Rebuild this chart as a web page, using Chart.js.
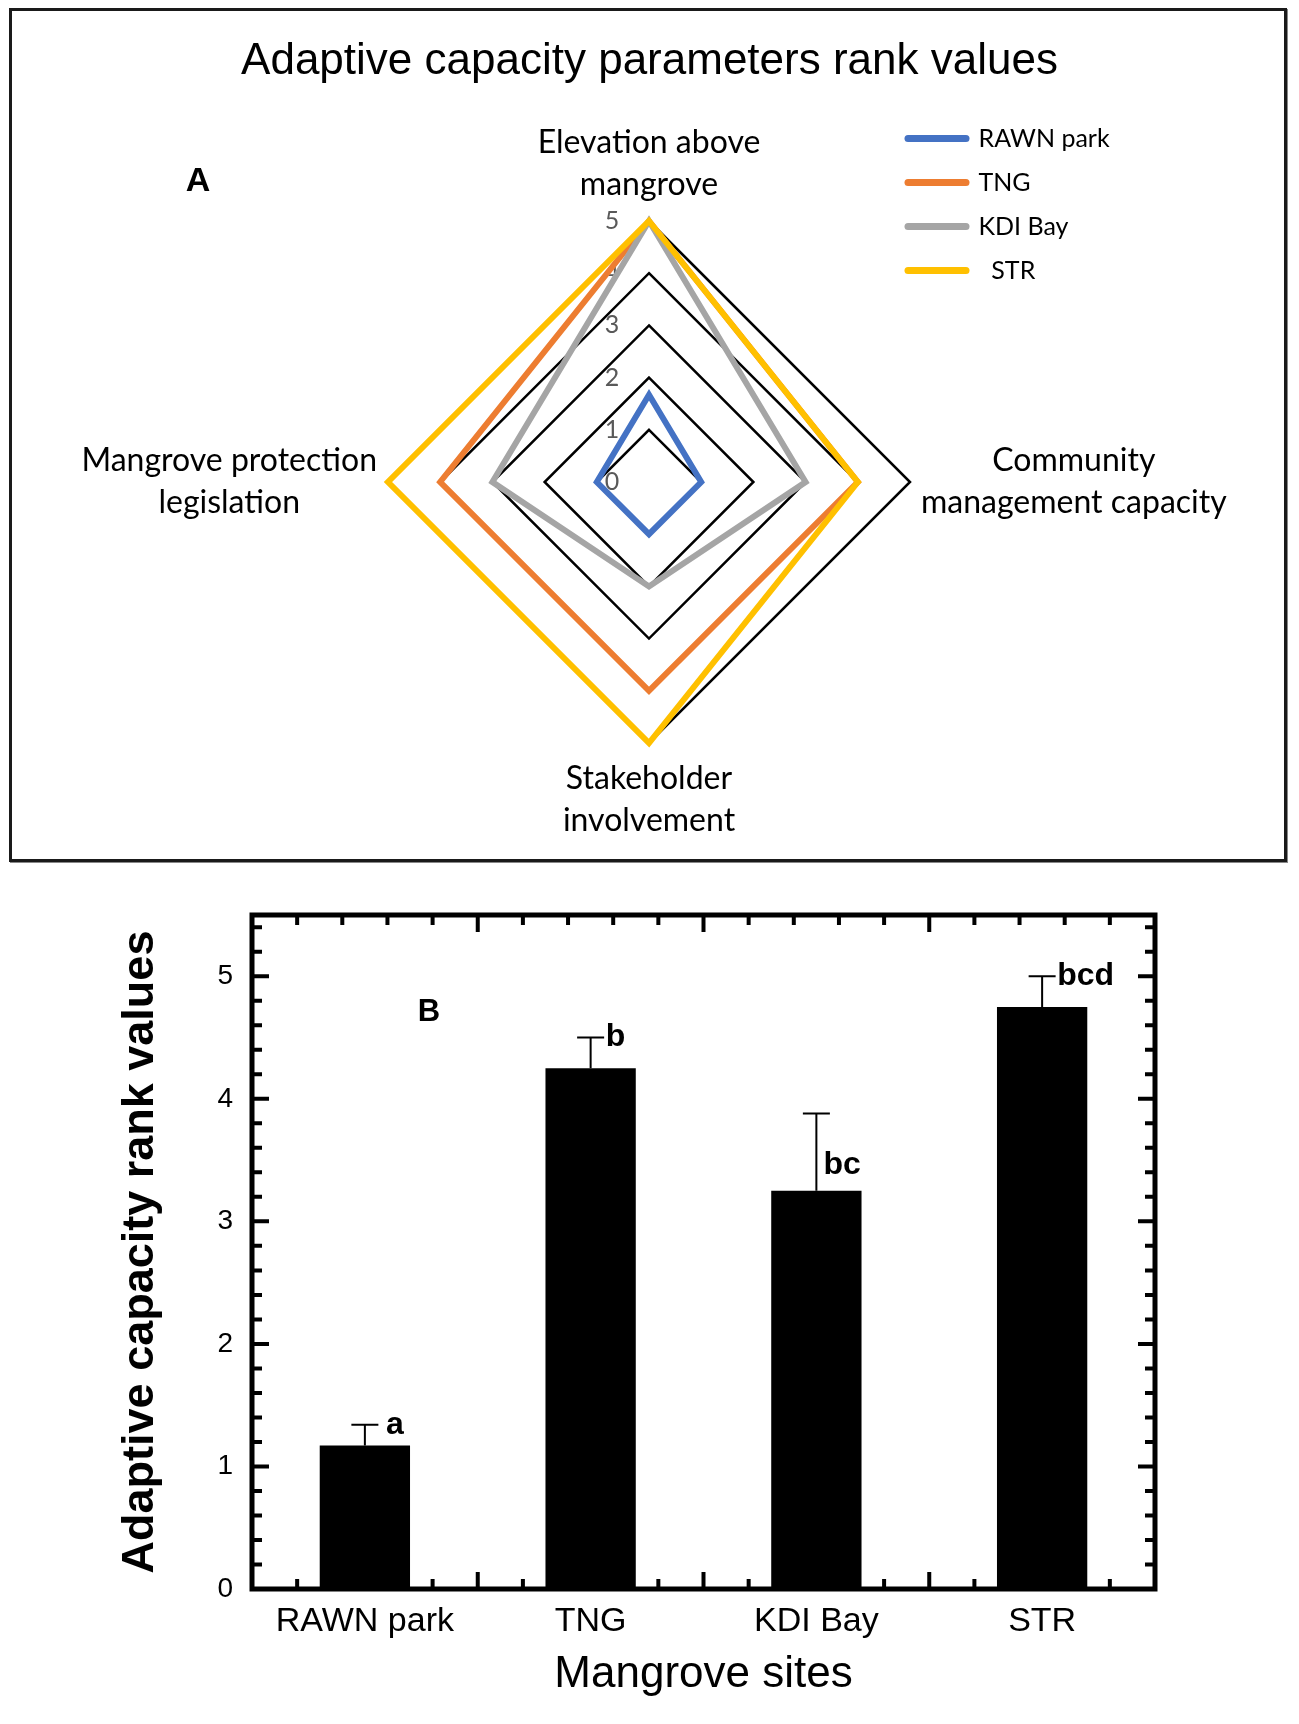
<!DOCTYPE html>
<html><head><meta charset="utf-8">
<script src="https://cdn.jsdelivr.net/npm/chart.js@4.4.1/dist/chart.umd.min.js"></script>
<style>
html,body{margin:0;padding:0;background:#fff;width:1299px;height:1724px;overflow:hidden;}
#frameA{position:absolute;left:9px;top:8px;width:1272px;height:848px;border:3px solid #1a1a1a;box-shadow:1px 1px 0 #888;}
#wrapA{position:absolute;left:0;top:0;width:1299px;height:875px;}
#wrapB{position:absolute;left:0;top:875px;width:1299px;height:849px;}
</style></head><body>
<div id="frameA"></div>
<div id="wrapA"><canvas id="radar"></canvas></div>
<div id="wrapB"><canvas id="bars"></canvas></div>
<script>
// ---- data ----
const radarAxes = [['Elevation above', 'mangrove'], ['Community', 'management capacity'], ['Stakeholder', 'involvement'], ['Mangrove protection', 'legislation']];
const siteNames = ['RAWN park', 'TNG', 'KDI Bay', 'STR'];
const rawnPark = [1.67, 1, 1, 1];
const tng = [5, 4, 4, 4];
const kdiBay = [5, 3, 2, 3];
const str = [5, 4, 5, 5];
const radarTicks = [0, 1, 2, 3, 4, 5];
const meanRank = [1.17, 4.25, 3.25, 4.75];
const seRank = [0.17, 0.25, 0.63, 0.25];
const letters = ['a', 'b', 'bc', 'bcd'];
const barTicks = [0, 1, 2, 3, 4, 5];

const ARIAL = '"Liberation Sans", Arial, Helvetica, sans-serif';
const CAL = 'Lato, "Noto Sans", sans-serif';
const seriesColors = ['#4472C4', '#ED7D31', '#A5A5A5', '#FFC000'];
Chart.defaults.color = '#000';

// ---- radar extras ----
const radarExtras = {
  id: 'radarExtras',
  afterLayout(chart) {
    const lg = chart.legend;
    if (!lg) return;
    const w = lg.width + 40;
    lg.left = 889; lg.top = 107; lg.width = w; lg.height = 230;
    lg.right = lg.left + w; lg.bottom = lg.top + 230;
  },
  beforeDatasetsDraw(chart) {
    const ctx = chart.ctx, s = chart.scales.r;
    ctx.save();
    ctx.font = '25px ' + CAL;
    ctx.fillStyle = '#595959';
    ctx.textAlign = 'center';
    ctx.textBaseline = 'middle';
    radarTicks.forEach(v => {
      ctx.fillText(String(v), s.xCenter - 37, s.yCenter - s.getDistanceFromCenterForValue(v));
    });
    ctx.restore();
  },
  afterDraw(chart) {
    const ctx = chart.ctx, s = chart.scales.r;
    ctx.save();
    ctx.font = '32px ' + CAL;
    ctx.fillStyle = '#000';
    ctx.textAlign = 'center';
    ctx.textBaseline = 'middle';
    const lh = 42;
    chart.data.labels.forEach((lab, i) => {
      const arr = Array.isArray(lab) ? lab : [lab];
      const n = arr.length;
      const bw = Math.max(...arr.map(t => ctx.measureText(t).width));
      const ang = s.getIndexAngle(i);
      const sn = Math.sin(ang), cs = Math.cos(ang);
      if (Math.abs(sn) < 0.5) {
        const p = s.getPointPosition(i, s.drawingArea + 15);
        arr.forEach((t, j) => {
          const y = cs > 0 ? p.y - lh / 2 - (n - 1 - j) * lh : p.y + lh / 2 + j * lh;
          ctx.fillText(t, p.x, y);
        });
      } else {
        const p = s.getPointPosition(i, s.drawingArea + 11);
        const cx = sn > 0 ? p.x + bw / 2 : p.x - bw / 2;
        arr.forEach((t, j) => ctx.fillText(t, cx, p.y + (j - (n - 1) / 2) * lh));
      }
    });
    ctx.font = 'bold 34px ' + ARIAL;
    ctx.fillText('A', 198, 182);
    ctx.restore();
  }
};

new Chart(document.getElementById('radar'), {
  type: 'radar',
  data: {
    labels: radarAxes,
    datasets: [rawnPark, tng, kdiBay, str].map((d, i) => ({
      label: siteNames[i], data: d,
      borderColor: seriesColors[i], backgroundColor: seriesColors[i],
      borderWidth: 6, pointRadius: 0, pointHoverRadius: 0, fill: false, tension: 0,
      borderJoinStyle: 'miter', order: 3 - i
    }))
  },
  options: {
    responsive: true, maintainAspectRatio: false, animation: false,
    layout: { padding: { top: 0, left: 0, right: 0, bottom: 131 } },
    scales: {
      r: {
        min: 0, max: 5,
        ticks: { display: false, stepSize: 1 },
        grid: { color: '#000', lineWidth: 2.5, circular: false },
        angleLines: { display: false },
        pointLabels: { display: false }
      }
    },
    plugins: {
      title: {
        display: true, text: 'Adaptive capacity parameters rank values', color: '#000',
        font: { family: ARIAL, size: 44, weight: 'normal', lineHeight: 1.2 },
        padding: { top: 35, bottom: 133 }
      },
      legend: {
        position: 'chartArea', align: 'start',
        labels: {
          usePointStyle: true, pointStyle: 'line', pointStyleWidth: 58, padding: 19,
          textAlign: 'left', color: '#000', font: { family: CAL, size: 25 },
          generateLabels(chart) {
            const items = Chart.defaults.plugins.legend.labels.generateLabels(chart);
            items.sort((a, b) => a.datasetIndex - b.datasetIndex);
            items.forEach(it => {
              it.lineCap = 'round';
              it.lineWidth = 7;
              if (it.text === 'STR') it.text = '  STR';
            });
            return items;
          }
        }
      },
      tooltip: { enabled: false }
    }
  },
  plugins: [radarExtras]
});

// ---- bar extras ----
const barExtras = {
  id: 'barExtras',
  afterDatasetsDraw(chart) {
    const ctx = chart.ctx, xs = chart.scales.x, ys = chart.scales.y;
    ctx.save();
    ctx.strokeStyle = '#000';
    ctx.fillStyle = '#000';
    ctx.lineWidth = 2;
    ctx.font = 'bold 32px ' + ARIAL;
    ctx.textAlign = 'left';
    ctx.textBaseline = 'middle';
    meanRank.forEach((m, i) => {
      const x = xs.getPixelForValue(i);
      const y0 = ys.getPixelForValue(m), y1 = ys.getPixelForValue(m + seRank[i]);
      ctx.beginPath();
      ctx.moveTo(x, y0); ctx.lineTo(x, y1);
      ctx.moveTo(x - 13.5, y1); ctx.lineTo(x + 13.5, y1);
      ctx.stroke();
      if (i === 2) {
        ctx.fillText(letters[i], x + 7, ys.getPixelForValue(m + seRank[i] * 0.33));
      } else {
        ctx.fillText(letters[i], x + (i === 0 ? 21 : 15), y1);
      }
    });
    ctx.restore();
  },
  afterDraw(chart) {
    const ctx = chart.ctx, xs = chart.scales.x, ys = chart.scales.y, ca = chart.chartArea;
    ctx.save();
    ctx.strokeStyle = '#000';
    ctx.lineWidth = 4;
    ctx.beginPath();
    for (let k = 1; k <= 27; k++) {
      const y = ys.getPixelForValue(k * 0.2);
      const L = (k % 5 === 0) ? 17 : 10;
      ctx.moveTo(ca.left, y); ctx.lineTo(ca.left + L, y);
      ctx.moveTo(ca.right, y); ctx.lineTo(ca.right - L, y);
    }
    for (let k = 1; k <= 19; k++) {
      const x = xs.getPixelForValue(-0.5 + 0.2 * k);
      const L = (k % 5 === 0) ? 17 : 10;
      ctx.moveTo(x, ca.bottom); ctx.lineTo(x, ca.bottom - L);
      ctx.moveTo(x, ca.top); ctx.lineTo(x, ca.top + L);
    }
    ctx.stroke();
    ctx.lineWidth = 5;
    ctx.strokeRect(ca.left, ca.top, ca.right - ca.left, ca.bottom - ca.top);
    ctx.fillStyle = '#000';
    ctx.font = 'bold 31px ' + ARIAL;
    ctx.textAlign = 'center';
    ctx.textBaseline = 'middle';
    ctx.fillText('B', 429, 137);
    ctx.restore();
  }
};

new Chart(document.getElementById('bars'), {
  type: 'bar',
  data: {
    labels: siteNames,
    datasets: [{
      label: 'Adaptive capacity rank values', data: meanRank,
      backgroundColor: '#000', borderWidth: 0, barPercentage: 0.4, categoryPercentage: 1
    }]
  },
  options: {
    responsive: true, maintainAspectRatio: false, animation: false,
    layout: { padding: { top: 40, right: 144, left: 0, bottom: 0 } },
    scales: {
      x: {
        offset: true,
        grid: { display: false, drawTicks: false },
        border: { display: false },
        ticks: { font: { family: ARIAL, size: 34 }, color: '#000', padding: 12 },
        title: { display: true, text: 'Mangrove sites', color: '#000', font: { family: ARIAL, size: 44 }, padding: { top: 0, bottom: 23 } },
        afterFit(sc) { sc.height = 135; }
      },
      y: {
        min: 0, max: 5.5,
        afterBuildTicks(sc) { sc.ticks = barTicks.map(v => ({ value: v })); },
        ticks: { font: { family: ARIAL, size: 28 }, color: '#000', padding: 19 },
        grid: { display: false, drawTicks: false },
        border: { display: false },
        title: { display: true, text: 'Adaptive capacity rank values', color: '#000', font: { family: ARIAL, size: 45, weight: 'bold' }, padding: { top: 114, bottom: 0 } },
        afterFit(sc) { sc.width = 252; }
      }
    },
    plugins: { legend: { display: false }, tooltip: { enabled: false } }
  },
  plugins: [barExtras]
});
</script>
</body></html>
